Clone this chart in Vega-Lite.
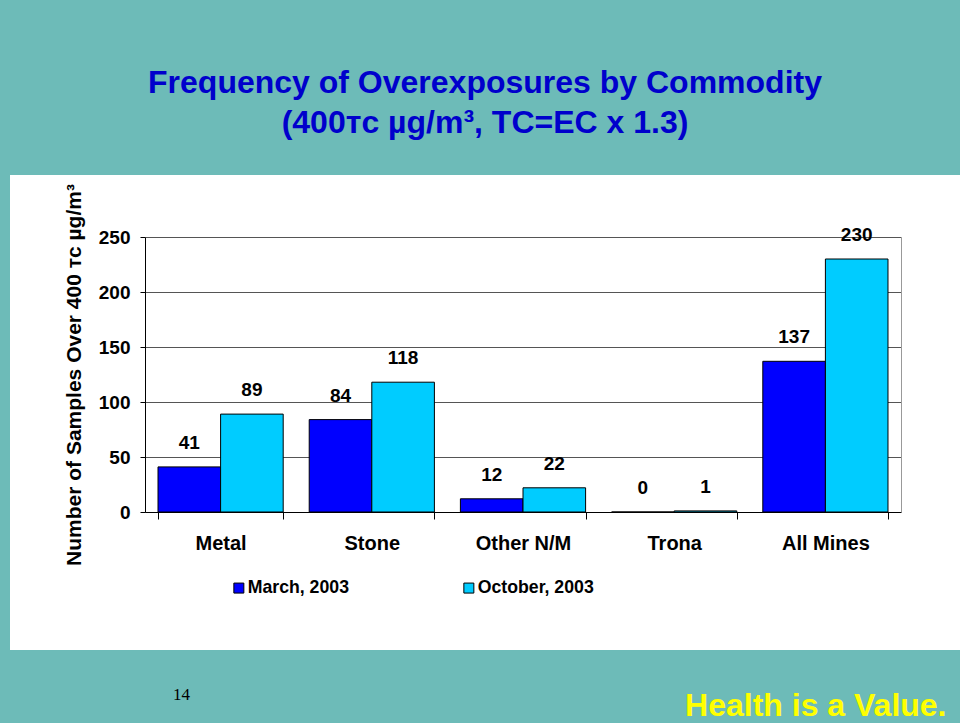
{
  "$schema": "https://vega.github.io/schema/vega-lite/v6.json",
  "width": 950,
  "height": 475,
  "autosize": {"type": "none"},
  "padding": {"left": 10, "top": 175, "right": 0, "bottom": 73},
  "background": "#6DBBB8",
  "config": {
    "view": {"fill": "white", "stroke": null},
    "font": "Liberation Sans"
  },
  "title": {
    "text": ["Frequency of Overexposures by Commodity", "(400ᴛᴄ µg/m³, TC=EC x 1.3)"],
    "font": "Liberation Sans",
    "fontSize": 32,
    "fontWeight": "bold",
    "color": "#0000CC",
    "lineHeight": 40,
    "offset": 35,
    "anchor": "middle",
    "frame": "group"
  },
  "data": {
    "values": [
      {"commodity": "Metal", "period": "March, 2003", "count": 41},
      {"commodity": "Metal", "period": "October, 2003", "count": 89},
      {"commodity": "Stone", "period": "March, 2003", "count": 84},
      {"commodity": "Stone", "period": "October, 2003", "count": 118},
      {"commodity": "Other N/M", "period": "March, 2003", "count": 12},
      {"commodity": "Other N/M", "period": "October, 2003", "count": 22},
      {"commodity": "Trona", "period": "March, 2003", "count": 0},
      {"commodity": "Trona", "period": "October, 2003", "count": 1},
      {"commodity": "All Mines", "period": "March, 2003", "count": 137},
      {"commodity": "All Mines", "period": "October, 2003", "count": 230}
    ]
  },
  "resolve": {"axis": {"x": "independent", "y": "independent"}},
  "layer": [
    {
      "mark": {"type": "bar", "stroke": "black", "strokeWidth": 1},
      "encoding": {
        "x": {
          "field": "commodity",
          "type": "nominal",
          "scale": {
            "domain": ["Metal", "Stone", "Other N/M", "Trona", "All Mines"],
            "range": [135, 891],
            "paddingInner": 0.172,
            "paddingOuter": 0.086
          },
          "axis": {
            "title": null,
            "orient": "bottom",
            "offset": -138,
            "tickBand": "extent",
            "labelAngle": 0,
            "labelFont": "Liberation Sans",
            "labelFontSize": 20,
            "labelFontWeight": "bold",
            "labelColor": "black",
            "labelPadding": 14,
            "tickSize": 7,
            "tickColor": "black",
            "domainColor": "black",
            "grid": false
          }
        },
        "xOffset": {
          "field": "period",
          "type": "nominal",
          "scale": {"domain": ["March, 2003", "October, 2003"]}
        },
        "y": {
          "field": "count",
          "type": "quantitative",
          "scale": {"domain": [0, 250], "range": [337, 62], "nice": false, "zero": true},
          "axis": {
            "title": "Number of Samples Over 400 ᴛᴄ µg/m³",
            "orient": "left",
            "offset": -135,
            "values": [0, 50, 100, 150, 200, 250],
            "grid": true,
            "gridColor": "#555555",
            "gridOpacity": 1,
            "domainColor": "black",
            "tickColor": "black",
            "tickSize": 5,
            "labelPadding": 10,
            "labelFont": "Liberation Sans",
            "labelFontSize": 19,
            "labelFontWeight": "bold",
            "labelColor": "black",
            "titleFont": "Liberation Sans",
            "titleFontSize": 21,
            "titleFontWeight": "bold",
            "titleColor": "black",
            "titlePadding": 14
          }
        },
        "color": {
          "field": "period",
          "type": "nominal",
          "scale": {
            "domain": ["March, 2003", "October, 2003"],
            "range": ["#0000FF", "#00CCFF"]
          },
          "legend": {
            "title": null,
            "orient": "none",
            "legendX": 220,
            "legendY": 404,
            "direction": "horizontal",
            "symbolType": "square",
            "symbolSize": 100,
            "symbolStrokeColor": "black",
            "symbolStrokeWidth": 1,
            "symbolOpacity": 1,
            "labelFont": "Liberation Sans",
            "labelFontSize": 17.7,
            "labelFontWeight": "bold",
            "labelColor": "black",
            "labelOffset": 0,
            "columnPadding": 111
          }
        }
      }
    },
    {
      "mark": {
        "type": "text",
        "baseline": "alphabetic",
        "dy": -18,
        "font": "Liberation Sans",
        "fontSize": 19,
        "fontWeight": "bold",
        "color": "black"
      },
      "encoding": {
        "x": {
          "field": "commodity",
          "type": "nominal",
          "scale": {
            "domain": ["Metal", "Stone", "Other N/M", "Trona", "All Mines"],
            "range": [135, 891],
            "paddingInner": 0.172,
            "paddingOuter": 0.086
          },
          "axis": {
            "orient": "bottom",
            "offset": 0,
            "domain": false,
            "ticks": false,
            "labels": false,
            "grid": false,
            "title": "Health is a Value.",
            "titleX": 936,
            "titleY": 55,
            "titleAlign": "right",
            "titleAnchor": null,
            "titleBaseline": "middle",
            "titleAngle": 0,
            "titleColor": "#FFFF00",
            "titleFont": "Liberation Sans",
            "titleFontSize": 32,
            "titleFontWeight": "bold"
          }
        },
        "xOffset": {
          "field": "period",
          "type": "nominal",
          "scale": {"domain": ["March, 2003", "October, 2003"]}
        },
        "y": {
          "field": "count",
          "type": "quantitative",
          "scale": {"domain": [0, 250], "range": [337, 62], "nice": false, "zero": true},
          "axis": {
            "orient": "right",
            "offset": -59,
            "domain": true,
            "domainColor": "#999999",
            "ticks": false,
            "labels": false,
            "grid": false,
            "title": "14",
            "titleX": -720,
            "titleY": 519,
            "titleAlign": "center",
            "titleAnchor": null,
            "titleBaseline": "middle",
            "titleAngle": 0,
            "titleColor": "black",
            "titleFont": "Liberation Serif",
            "titleFontSize": 17,
            "titleFontWeight": "normal"
          }
        },
        "text": {"field": "count", "type": "quantitative"}
      }
    }
  ]
}
